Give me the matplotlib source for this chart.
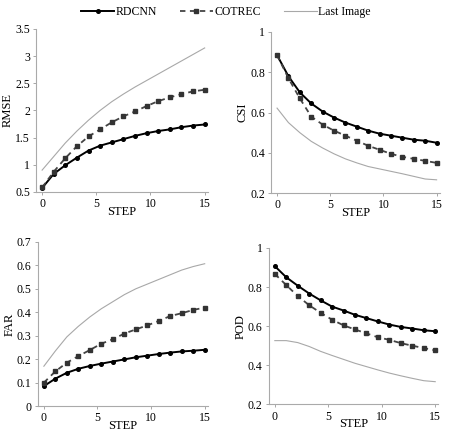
import numpy as np
import matplotlib
matplotlib.use('Agg')
import matplotlib.pyplot as plt

plt.rcParams['font.family'] = ['Liberation Serif', 'DejaVu Serif']

# 15 forecast steps spread over the 0..15 axis
steps = np.linspace(0, 15, 15)

rmse_rdcnn = [0.57, 0.83, 0.99, 1.13, 1.26, 1.35, 1.41, 1.47, 1.53, 1.58, 1.62, 1.65, 1.69, 1.72, 1.74]
rmse_cotrec = [0.58, 0.87, 1.12, 1.34, 1.52, 1.65, 1.78, 1.89, 1.98, 2.08, 2.17, 2.24, 2.30, 2.35, 2.38]
rmse_last = [0.90, 1.15, 1.40, 1.62, 1.82, 2.00, 2.16, 2.30, 2.43, 2.55, 2.67, 2.79, 2.91, 3.03, 3.15]

csi_rdcnn = [0.885, 0.78, 0.70, 0.645, 0.605, 0.575, 0.55, 0.53, 0.51, 0.495, 0.485, 0.475, 0.465, 0.46, 0.45]
csi_cotrec = [0.885, 0.77, 0.67, 0.58, 0.54, 0.51, 0.485, 0.46, 0.435, 0.415, 0.395, 0.38, 0.37, 0.36, 0.35]
csi_last = [0.622, 0.55, 0.50, 0.457, 0.424, 0.395, 0.37, 0.35, 0.332, 0.32, 0.308, 0.296, 0.283, 0.27, 0.266]

far_rdcnn = [0.085, 0.117, 0.142, 0.159, 0.171, 0.181, 0.19, 0.199, 0.208, 0.215, 0.222, 0.228, 0.233, 0.236, 0.24]
far_cotrec = [0.10, 0.148, 0.185, 0.213, 0.239, 0.266, 0.285, 0.309, 0.327, 0.344, 0.363, 0.384, 0.396, 0.41, 0.42]
far_last = [0.17, 0.235, 0.295, 0.34, 0.38, 0.415, 0.445, 0.475, 0.50, 0.52, 0.54, 0.56, 0.58, 0.595, 0.607]

pod_rdcnn = [0.907, 0.85, 0.807, 0.767, 0.732, 0.70, 0.68, 0.658, 0.641, 0.624, 0.608, 0.596, 0.588, 0.579, 0.574]
pod_cotrec = [0.867, 0.81, 0.754, 0.707, 0.668, 0.633, 0.604, 0.583, 0.563, 0.543, 0.53, 0.513, 0.50, 0.488, 0.476]
pod_last = [0.526, 0.526, 0.516, 0.496, 0.471, 0.45, 0.43, 0.41, 0.393, 0.376, 0.36, 0.346, 0.333, 0.321, 0.316]

fig = plt.figure(figsize=(4.52, 4.32), dpi=100)

panels = [
    ([0.080, 0.556, 0.380, 0.377], 'RMSE', rmse_rdcnn, rmse_cotrec, rmse_last, (0.5, 3.5), [0.5, 1, 1.5, 2, 2.5, 3, 3.5]),
    ([0.600, 0.553, 0.373, 0.373], 'CSI', csi_rdcnn, csi_cotrec, csi_last, (0.2, 1.0), [0.2, 0.4, 0.6, 0.8, 1]),
    ([0.084, 0.060, 0.376, 0.380], 'FAR', far_rdcnn, far_cotrec, far_last, (0.0, 0.7), [0, 0.1, 0.2, 0.3, 0.4, 0.5, 0.6, 0.7]),
    ([0.595, 0.064, 0.375, 0.362], 'POD', pod_rdcnn, pod_cotrec, pod_last, (0.2, 1.0), [0.2, 0.4, 0.6, 0.8, 1]),
]

for rect, name, rd, co, last, ylim, yticks in panels:
    ax = fig.add_axes(rect)
    l1, = ax.plot(steps, rd, color='black', lw=1.4, marker='o', ms=2.6, label='RDCNN')
    l2, = ax.plot(steps, co, color='#444444', lw=1.3, ls=(0, (3, 2.5)), marker='s', ms=2.4,
                  mfc='#333333', mec='#333333', label='COTREC')
    l3, = ax.plot(steps, last, color='#a8a8a8', lw=0.8, label='Last Image')
    ax.set_xlim(-0.55, 15.3)
    ax.set_ylim(*ylim)
    ax.set_xticks([0, 5, 10, 15])
    ax.set_yticks(yticks)
    ax.set_yticklabels([('%g' % t) for t in yticks])
    ax.set_xlabel('STEP', fontsize=9, labelpad=-3)
    ax.set_ylabel(name, fontsize=9, labelpad=1)
    ax.tick_params(labelsize=8.5, length=2.5, width=0.6, color='#999999', pad=2)
    for s in ['top', 'right']:
        ax.spines[s].set_visible(False)
    for s in ['left', 'bottom']:
        ax.spines[s].set_color('#aaaaaa')
        ax.spines[s].set_linewidth(0.8)

fig.legend([l1, l2, l3], ['RDCNN', 'COTREC', 'Last Image'], loc='upper center',
           bbox_to_anchor=(0.50, 1.01), ncol=3, frameon=False, fontsize=8.5,
           handlelength=2.8, columnspacing=1.9, handletextpad=0.15)

fig.savefig('out.png', dpi=100)
